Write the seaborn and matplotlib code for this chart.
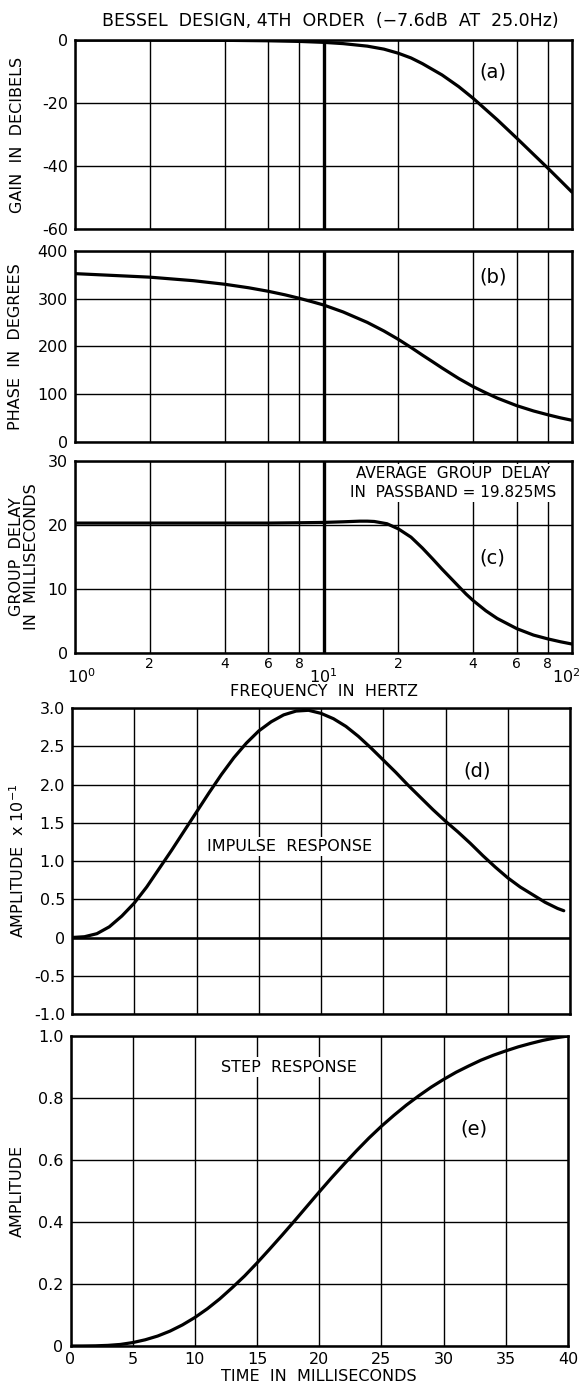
import numpy as np
import pandas as pd
import matplotlib
matplotlib.use("Agg")
import matplotlib.pyplot as plt
import matplotlib.transforms as mtransforms
from matplotlib.ticker import FixedLocator, NullFormatter
import seaborn as sns

# --- frequency-domain curves ---
freq_gain = [1, 2, 4, 6, 8, 10, 12, 15, 17.5, 20, 22.5, 25, 30, 35, 40, 50, 60, 70, 80, 90, 100]
gain_db = [0, -0.02, -0.1, -0.25, -0.45, -0.75, -1.15, -1.95, -2.9, -4.2, -5.7, -7.5, -11.1,
           -14.8, -18.5, -25.3, -31.2, -36.3, -40.7, -44.7, -48.3]

freq_phase = [1, 2, 3, 4, 5, 6, 7, 8, 9, 10, 12, 15, 17.5, 20, 22.5, 25, 27.5, 30, 35, 40, 45,
              50, 60, 70, 80, 90, 100]
phase_deg = [352.6, 345.2, 337.8, 330.4, 323, 315.6, 308.2, 300.9, 293.7, 287, 272.3, 250.5,
             232.5, 215, 198, 182, 168, 155, 133, 116, 103, 92, 76, 65, 57, 50.5, 45.5]

freq_gd = [1, 2, 4, 6, 8, 10, 12, 14, 15, 16, 18, 20, 22.5, 25, 27.5, 30, 32.5, 35, 37.5, 40,
           45, 50, 60, 70, 80, 90, 100]
group_delay = [20.3, 20.3, 20.3, 20.3, 20.35, 20.4, 20.5, 20.6, 20.6, 20.55, 20.2, 19.4, 18.1,
               16.4, 14.7, 13.1, 11.7, 10.4, 9.2, 8.2, 6.6, 5.4, 3.8, 2.8, 2.2, 1.75, 1.4]

# --- time-domain curves ---
time_imp = [0, 1, 2, 3, 4, 5, 6, 7, 8, 9, 10, 11, 12, 13, 14, 15, 16, 17, 18, 19, 20, 21, 22, 23,
            24, 25, 26, 27, 28, 29, 30, 31, 32, 33, 34, 35, 36, 37, 38, 39, 39.5]
impulse = [0, 0.01, 0.05, 0.14, 0.28, 0.45, 0.66, 0.9, 1.14, 1.39, 1.64, 1.89, 2.13, 2.35, 2.54,
           2.7, 2.82, 2.91, 2.96, 2.97, 2.93, 2.86, 2.76, 2.63, 2.48, 2.32, 2.16, 1.99, 1.83, 1.67,
           1.52, 1.38, 1.23, 1.07, 0.92, 0.78, 0.66, 0.56, 0.46, 0.38, 0.35]

time_step = [0, 1, 2, 3, 4, 5, 6, 7, 8, 9, 10, 11, 12, 13, 14, 15, 16, 17, 18, 19, 20, 21, 22, 23,
             24, 25, 26, 27, 28, 29, 30, 31, 32, 33, 34, 35, 36, 37, 38, 39, 40]
step = [0, 0.0001, 0.0006, 0.002, 0.005, 0.011, 0.02, 0.032, 0.048, 0.068, 0.092, 0.12, 0.152,
        0.188, 0.226, 0.268, 0.312, 0.357, 0.403, 0.45, 0.497, 0.543, 0.587, 0.63, 0.671, 0.709,
        0.744, 0.777, 0.807, 0.835, 0.86, 0.883, 0.903, 0.922, 0.938, 0.952, 0.965, 0.976,
        0.986, 0.994, 1.0]

freq_major = [1, 10, 100]
freq_major_labels = ["$10^0$", "$10^1$", "$10^2$"]
freq_minor = [2, 4, 6, 8, 20, 40, 60, 80]
freq_minor_labels = ["2", "4", "6", "8", "2", "4", "6", "8"]

sns.set_theme(style="white", rc={
    "axes.edgecolor": "black",
    "axes.linewidth": 1.8,
    "grid.color": "black",
    "grid.linewidth": 1.0,
    "xtick.color": "black",
    "ytick.color": "black",
    "text.color": "black",
    "axes.labelcolor": "black",
})
plt.rcParams["font.family"] = ["DejaVu Sans"]
plt.rcParams["mathtext.default"] = "regular"

W, H = 582, 1388
fig = plt.figure(figsize=(W / 100, H / 100), dpi=100)


def px_axes(left, top, right, bottom):
    return fig.add_axes([left / W, 1 - bottom / H, (right - left) / W, (bottom - top) / H])


ax_a = px_axes(75, 40, 572, 229)
ax_b = px_axes(75, 251, 572, 442)
ax_c = px_axes(75, 461, 572, 653)
ax_d = px_axes(72, 708, 570, 1014)
ax_e = px_axes(70.5, 1036, 568, 1346)

line_kw = dict(color="black", linewidth=2.3, legend=False)
TICK = 11.5
LAB = 11.5


def ylab(ax, text, x_px, left_px, width_px, **kw):
    ax.set_ylabel(text, fontsize=LAB, **kw)
    ax.yaxis.set_label_coords((x_px - left_px) / width_px, 0.5)
    ax.yaxis.label.set_va("center")


sns.lineplot(data=pd.DataFrame({"f": freq_gain, "v": gain_db}), x="f", y="v", ax=ax_a, **line_kw)
sns.lineplot(data=pd.DataFrame({"f": freq_phase, "v": phase_deg}), x="f", y="v", ax=ax_b, **line_kw)
sns.lineplot(data=pd.DataFrame({"f": freq_gd, "v": group_delay}), x="f", y="v", ax=ax_c, **line_kw)

for ax, ylim, yticks in [(ax_a, (-60, 0), [-60, -40, -20, 0]),
                         (ax_b, (0, 400), [0, 100, 200, 300, 400]),
                         (ax_c, (0, 30), [0, 10, 20, 30])]:
    ax.set_xscale("log")
    ax.set_xlim(1, 100)
    ax.set_ylim(*ylim)
    ax.set_yticks(yticks)
    ax.set_yticklabels([str(t) for t in yticks])
    ax.xaxis.set_major_locator(FixedLocator(freq_major))
    ax.xaxis.set_minor_locator(FixedLocator(freq_minor))
    ax.grid(True, which="both", axis="both")
    ax.axvline(10, color="black", linewidth=2.4)
    ax.tick_params(which="both", length=0, labelsize=TICK, pad=5)
    ax.set_xlabel("")
    ax.set_xticklabels([])
    ax.xaxis.set_minor_formatter(NullFormatter())

ax_c.set_xticklabels(freq_major_labels)
ax_c.set_xticks(freq_minor, minor=True)
ax_c.set_xticklabels(freq_minor_labels, minor=True)
ax_c.tick_params(axis="x", which="major", pad=10, labelsize=TICK)
ax_c.tick_params(axis="x", which="minor", pad=3, labelsize=10)
# nudge the end labels inward like the reference
major_lbls = ax_c.get_xticklabels()
major_lbls[0].set_transform(major_lbls[0].get_transform()
                            + mtransforms.ScaledTranslation(6 / 100, 0, fig.dpi_scale_trans))
major_lbls[-1].set_transform(major_lbls[-1].get_transform()
                             + mtransforms.ScaledTranslation(-6 / 100, 0, fig.dpi_scale_trans))
ax_c.set_xlabel("FREQUENCY  IN  HERTZ", fontsize=LAB)
ax_c.xaxis.set_label_coords(0.5, -0.16)
ax_c.xaxis.label.set_va("top")

ylab(ax_a, "GAIN  IN  DECIBELS", 18, 75, 497)
ylab(ax_b, "PHASE  IN  DEGREES", 16, 75, 497)
ylab(ax_c, "GROUP  DELAY\nIN  MILLISECONDS", 24, 75, 497, linespacing=1.0)

ax_a.text(48, -10, "(a)", fontsize=14, ha="center", va="center")
ax_b.text(48, 345, "(b)", fontsize=14, ha="center", va="center")
ax_c.text(48, 14.8, "(c)", fontsize=14, ha="center", va="center")
ax_c.text(0.761, 0.885, "AVERAGE  GROUP  DELAY\nIN  PASSBAND = 19.825MS", transform=ax_c.transAxes,
          fontsize=11, ha="center", va="center", linespacing=1.3,
          bbox=dict(facecolor="white", edgecolor="none", pad=1.5))

# --- time-domain panels ---
sns.lineplot(data=pd.DataFrame({"t": time_imp, "v": impulse}), x="t", y="v", ax=ax_d, **line_kw)
sns.lineplot(data=pd.DataFrame({"t": time_step, "v": step}), x="t", y="v", ax=ax_e, **line_kw)

time_ticks = list(range(0, 45, 5))
for ax in (ax_d, ax_e):
    ax.set_xlim(0, 40)
    ax.set_xticks(time_ticks)
    ax.grid(True, which="major", axis="both")
    ax.tick_params(which="both", length=0, labelsize=TICK, pad=5)
    ax.set_xlabel("")

d_ticks = [-1.0, -0.5, 0, 0.5, 1.0, 1.5, 2.0, 2.5, 3.0]
ax_d.set_ylim(-1.0, 3.0)
ax_d.set_yticks(d_ticks)
ax_d.set_yticklabels(["0" if t == 0 else f"{t:.1f}" for t in d_ticks])
ax_d.set_xticklabels([])
ax_d.axhline(0, color="black", linewidth=1.8)
ylab(ax_d, "AMPLITUDE  x $10^{-1}$", 18, 72, 498)
ax_d.text(32.5, 2.18, "(d)", fontsize=14, ha="center", va="center")
ax_d.text(17.5, 1.19, "IMPULSE  RESPONSE", fontsize=11.5, ha="center", va="center",
          bbox=dict(facecolor="white", edgecolor="none", pad=1.5))

e_ticks = [0, 0.2, 0.4, 0.6, 0.8, 1.0]
ax_e.set_ylim(0, 1.0)
ax_e.set_yticks(e_ticks)
ax_e.set_yticklabels(["0" if t == 0 else f"{t:.1f}" for t in e_ticks])
ax_e.set_xticklabels([str(t) for t in time_ticks])
ax_e.tick_params(axis="x", pad=4)
ylab(ax_e, "AMPLITUDE", 17, 70.5, 497.5)
ax_e.set_xlabel("TIME  IN  MILLISECONDS", fontsize=LAB)
ax_e.xaxis.set_label_coords(0.5, -0.075)
ax_e.xaxis.label.set_va("top")
ax_e.text(32.4, 0.70, "(e)", fontsize=14, ha="center", va="center")
ax_e.text(17.6, 0.90, "STEP  RESPONSE", fontsize=11.5, ha="center", va="center",
          bbox=dict(facecolor="white", edgecolor="none", pad=1.5))

fig.text(330 / W, 1 - 21 / H, "BESSEL  DESIGN, 4TH  ORDER  (\u22127.6dB  AT  25.0Hz)",
         ha="center", va="center", fontsize=12.5)

fig.savefig("out.png", dpi=100, facecolor="white")
